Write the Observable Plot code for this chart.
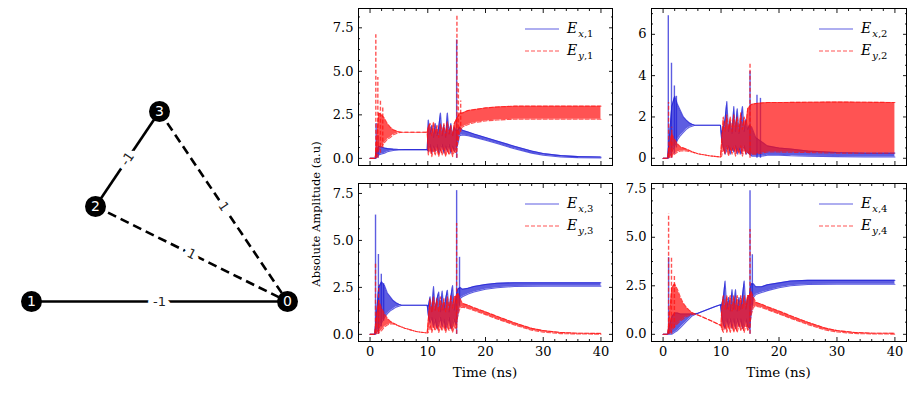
<!DOCTYPE html>
<html><head><meta charset="utf-8">
<script src="https://cdn.jsdelivr.net/npm/d3@7"></script>
<script src="https://cdn.jsdelivr.net/npm/@observablehq/plot@0.6"></script>
<style>
body{margin:0;background:#fff;}
#fig{position:relative;width:920px;height:393px;overflow:hidden;font-family:"DejaVu Serif";color:#000;}
.abs{position:absolute;}
</style></head><body><div id="fig"></div>
<script>
// ---------------- graph data ----------------
const nodeIds = [0, 1, 2, 3];
const nodeX = [4, 0, 1, 2];
const nodeY = [0, 0, 1.5, 3];
const edgeFrom = [1, 2, 2, 3];
const edgeTo = [0, 3, 0, 0];
const edgeWeight = [-1, -1, 1, 1];

// ---------------- axis ticks ----------------
const timeTicks = [0, 10, 20, 30, 40];
const ampTicks25 = [0, 2.5, 5, 7.5];
const ampTicks2 = [0, 2, 4, 6];
const xLabel = "Time (ns)";
const yLabel = "Absolute Amplitude (a.u)";

// ---------------- series: envelopes [t, low, high] and spikes [t, low, peak] ----------------
const ex1Band = [[0,0,0],[0.9,0,0],[1.0,0,0.3],[1.5,0.2,0.7],[2,0.25,0.65],[2.5,0.3,0.6],[3,0.38,0.56],[4,0.45,0.53],[5,0.48,0.51],[6,0.5,0.5],[9.9,0.5,0.5],
  [10.1,0.4,2.2],[10.4,0.8,1.4],[10.7,0.3,1.9],[11.0,0.7,1.2],[11.3,0.4,2.0],[11.6,0.8,1.3],[11.9,0.3,1.8],[12.2,0.5,2.6],[12.5,0.8,1.3],[12.8,0.3,1.9],[13.1,0.7,1.2],[13.4,0.4,2.6],[13.7,0.8,1.4],[14.0,0.3,2.0],[14.3,0.7,1.3],[14.6,0.4,1.8],[14.9,0.6,1.6],
  [15.2,0.8,1.6],[15.5,1.3,1.8],[16,1.35,1.62],[17,1.3,1.52],[18,1.22,1.4],[20,1.04,1.2],[22,0.85,1.0],[25,0.55,0.7],[28,0.3,0.42],[30,0.18,0.28],[33,0.08,0.16],[36,0.04,0.1],[40,0.03,0.08]];
const ex1Spikes = [[1.05,0,2.0],[1.4,0,1.3],[15.0,0,6.8]];
const ey1Band = [[0,0,0],[0.9,0,0],[1.0,0,0.4],[1.5,0.5,2.6],[2,0.7,2.5],[2.5,0.9,2.3],[3,1.1,2.0],[3.5,1.2,1.8],[4,1.35,1.65],[4.5,1.42,1.58],[5,1.48,1.52],[5.5,1.5,1.5],[9.9,1.5,1.5],
  [10.1,0.2,1.8],[10.4,0.6,2.0],[10.7,0.1,1.3],[11.0,0.5,2.1],[11.3,0.2,1.4],[11.6,0.6,1.9],[11.9,0.1,1.2],[12.2,0.5,2.0],[12.5,0.2,1.4],[12.8,0.6,2.0],[13.1,0.1,1.3],[13.4,0.5,2.1],[13.7,0.2,1.4],[14.0,0.6,1.9],[14.3,0.1,1.3],[14.6,0.4,2.0],[14.9,0.3,2.2],
  [15.2,1.0,2.4],[15.6,1.6,2.6],[16,1.8,2.6],[17,1.95,2.75],[18,2.05,2.8],[20,2.15,2.9],[22,2.2,2.95],[25,2.25,3.0],[30,2.25,3.0],[40,2.25,3.0]];
const ey1Spikes = [[1.0,0,7.1],[1.35,0,4.65],[1.8,0.3,3.4],[2.2,0.6,2.9],[15.05,0,8.2],[15.3,1.0,4.3],[15.7,1.5,3.3]];

const ex2Band = [[0,0,0],[0.8,0,0],[0.9,0,0.4],[1.5,0.3,2.5],[2,0.6,3.0],[2.5,0.9,2.6],[3,1.1,2.3],[3.5,1.25,2.0],[4,1.4,1.85],[4.5,1.5,1.72],[5,1.55,1.65],[5.5,1.6,1.6],[9.9,1.6,1.6],
  [10.1,0.9,1.2],[10.4,0.5,1.5],[10.7,0.2,1.9],[11.0,0.4,2.75],[11.3,0.6,1.3],[11.6,0.2,1.8],[11.9,0.5,1.2],[12.2,0.3,2.5],[12.5,0.6,1.3],[12.8,0.2,2.4],[13.1,0.5,1.2],[13.4,0.2,1.8],[13.7,0.4,2.5],[14.0,0.6,1.3],[14.3,0.2,1.9],[14.6,0.3,1.4],[14.9,0.2,1.6],
  [15.3,0.1,1.5],[16,0.1,1.0],[17,0.1,0.8],[18,0.15,0.6],[20,0.15,0.5],[22,0.12,0.45],[25,0.1,0.35],[30,0.08,0.28],[35,0.06,0.25],[40,0.06,0.25]];
const ex2Spikes = [[0.9,0,6.9],[1.45,0,4.6],[1.95,0.2,3.5],[2.3,0.5,3.0],[15.0,0.2,4.2],[16.2,0,3.05],[16.8,0,2.9]];
const ey2Band = [[0,0,0],[0.8,0,0],[0.9,0,0.3],[1.5,0.1,1.2],[2,0.2,0.9],[2.5,0.3,0.7],[3,0.35,0.55],[4,0.35,0.45],[5,0.3,0.32],[6,0.22,0.22],[8,0.12,0.12],[9.9,0.06,0.06],
  [10.1,0.1,0.8],[10.4,0.5,2.0],[10.7,0.2,1.3],[11.0,0.6,2.1],[11.3,0.1,1.4],[11.6,0.5,2.0],[11.9,0.2,1.3],[12.2,0.6,2.1],[12.5,0.1,1.5],[12.8,0.5,2.0],[13.1,0.2,1.3],[13.4,0.6,2.2],[13.7,0.1,1.4],[14.0,0.5,2.0],[14.3,0.2,1.6],[14.6,0.3,2.4],[14.9,0.2,2.5],
  [15.2,0.2,2.6],[16,0.2,2.65],[18,0.3,2.7],[20,0.3,2.7],[30,0.25,2.72],[40,0.25,2.7]];
const ey2Spikes = [[0.95,0,2.7],[1.5,0,1.5],[15.0,0,4.6]];

const ex3Band = [[0,0,0],[0.8,0,0],[0.9,0,0.3],[1.5,0.3,2.5],[2,0.6,2.8],[2.5,0.9,2.6],[3,1.1,2.2],[3.5,1.25,2.0],[4,1.35,1.8],[4.5,1.45,1.68],[5,1.5,1.6],[5.5,1.55,1.55],[9.9,1.55,1.55],
  [10.1,1.0,1.5],[10.4,0.6,2.0],[10.7,0.9,1.2],[11.0,0.4,2.55],[11.3,0.8,1.3],[11.6,0.3,1.9],[11.9,0.5,2.25],[12.2,0.9,1.2],[12.5,0.4,2.3],[12.8,0.8,1.3],[13.1,0.3,1.9],[13.4,0.5,2.35],[13.7,0.9,1.2],[14.0,0.3,2.0],[14.3,0.4,2.6],[14.6,0.8,1.3],[14.9,0.5,2.0],
  [15.2,1.0,2.4],[15.6,1.9,2.5],[16,2.0,2.4],[17,2.15,2.45],[18,2.25,2.55],[20,2.4,2.65],[22,2.48,2.72],[25,2.55,2.75],[30,2.57,2.75],[40,2.57,2.75]];
const ex3Spikes = [[0.95,0,6.35],[1.45,0,4.25],[1.95,0.4,3.2],[2.35,0.7,2.7],[15.0,0,7.65],[15.5,1.5,4.1]];
const ey3Band = [[0,0,0],[0.8,0,0],[0.9,0,0.3],[1.5,0.1,1.8],[2,0.2,1.4],[2.5,0.4,1.1],[3,0.5,0.85],[3.5,0.55,0.7],[4,0.55,0.6],[5,0.45,0.45],[6,0.33,0.33],[8,0.15,0.15],[9.9,0.07,0.07],
  [10.1,0.1,0.8],[10.4,0.5,1.9],[10.7,0.1,1.2],[11.0,0.4,2.0],[11.3,0.2,1.3],[11.6,0.5,1.9],[11.9,0.1,1.2],[12.2,0.4,2.0],[12.5,0.2,1.3],[12.8,0.5,1.9],[13.1,0.1,1.2],[13.4,0.4,2.0],[13.7,0.2,1.3],[14.0,0.5,2.1],[14.3,0.1,1.4],[14.6,0.4,2.0],[14.9,0.3,2.0],
  [15.2,1.0,2.2],[15.6,1.4,1.9],[16,1.45,1.65],[17,1.38,1.55],[18,1.27,1.42],[20,1.05,1.2],[22,0.82,0.96],[25,0.5,0.62],[28,0.22,0.32],[30,0.12,0.2],[33,0.04,0.1],[36,0.02,0.06],[40,0.01,0.05]];
const ey3Spikes = [[0.95,0,3.8],[1.5,0,2.6],[15.0,0,5.9]];

const ex4Band = [[0,0,0],[0.8,0,0],[0.9,0,0.2],[1.5,0,0.9],[2,0.1,1.1],[2.5,0.2,1.1],[3,0.35,1.05],[3.5,0.5,1.05],[4,0.65,1.05],[4.5,0.8,1.05],[5,0.95,1.05],[5.5,1.02,1.06],[6,1.08,1.08],[7,1.2,1.2],[8,1.32,1.32],[9,1.43,1.43],[9.9,1.52,1.52],
  [10.1,1.0,1.5],[10.4,0.5,1.9],[10.7,0.3,2.75],[11.0,0.8,1.3],[11.3,0.4,1.9],[11.6,0.8,1.2],[11.9,0.3,2.3],[12.2,0.8,1.3],[12.5,0.3,2.3],[12.8,0.8,1.2],[13.1,0.4,1.9],[13.4,0.8,1.3],[13.7,0.3,2.0],[14.0,0.4,2.75],[14.3,0.8,1.3],[14.6,0.4,1.9],[14.9,0.3,2.0],
  [15.2,1.0,2.6],[15.6,1.9,2.6],[16,2.05,2.45],[17,2.15,2.45],[18,2.25,2.55],[20,2.4,2.65],[22,2.5,2.75],[25,2.57,2.78],[30,2.58,2.78],[40,2.58,2.78]];
const ex4Spikes = [[0.95,0,3.95],[15.0,0,7.4],[15.4,1.5,4.1]];
const ey4Band = [[0,0,0],[0.8,0,0],[0.9,0,0.3],[1.5,0.2,2.4],[2,0.4,2.6],[2.5,0.55,2.3],[3,0.7,1.9],[3.5,0.8,1.6],[4,0.9,1.4],[4.5,0.97,1.25],[5,1.02,1.12],[5.5,1.05,1.05],[7,0.87,0.87],[9,0.6,0.6],[10,0.45,0.45],
  [10.1,0.3,1.2],[10.4,0.1,2.0],[10.7,0.5,1.3],[11.0,0.1,2.0],[11.3,0.4,1.3],[11.6,0.1,2.0],[11.9,0.5,1.2],[12.2,0.1,2.0],[12.5,0.4,1.3],[12.8,0.1,2.0],[13.1,0.5,1.2],[13.4,0.2,2.0],[13.7,0.4,1.3],[14.0,0.1,2.0],[14.3,0.5,1.4],[14.6,0.2,2.0],[14.9,0.3,2.0],
  [15.2,1.0,2.2],[15.6,1.4,1.9],[16,1.45,1.65],[17,1.38,1.55],[18,1.27,1.42],[20,1.05,1.2],[22,0.82,0.96],[25,0.5,0.62],[28,0.22,0.32],[30,0.12,0.2],[33,0.04,0.1],[36,0.02,0.06],[40,0.01,0.05]];
const ey4Spikes = [[0.95,0,6.2],[1.45,0,4.0],[1.95,0.3,3.0],[15.0,0,5.4]];

// ---------------- styles ----------------
const BLUE = "#1f1fd6", RED = "#ff1010", OP = 0.72, DASH = "4,2";
const SERIF = "DejaVu Serif";
const fig = document.getElementById("fig");

// ---------------- network graph ----------------
(function () {
  const W = 310, H = 393, mL = 31, mR = 23, mT = 111, mB = 92;
  const kx = (W - mL - mR) / 4, ky = (H - mT - mB) / 3;
  const nodes = nodeIds.map((id, i) => ({id, x: nodeX[i], y: nodeY[i]}));
  const byId = id => nodes.find(n => n.id === id);
  const edges = edgeFrom.map((a, i) => {
    const A = byId(a), B = byId(edgeTo[i]);
    let ang = Math.atan2(-(B.y - A.y) * ky, (B.x - A.x) * kx) * 180 / Math.PI;
    if (ang > 90) ang -= 180; if (ang < -90) ang += 180;
    return {x1: A.x, y1: A.y, x2: B.x, y2: B.y, w: edgeWeight[i], mx: (A.x + B.x) / 2, my: (A.y + B.y) / 2, ang};
  });
  const svg = Plot.plot({
    width: W, height: H, marginLeft: mL, marginRight: mR, marginTop: mT, marginBottom: mB,
    x: {domain: [0, 4], axis: null}, y: {domain: [0, 3], axis: null},
    style: {background: "transparent", overflow: "visible"},
    marks: [
      Plot.link(edges.filter(e => e.w < 0), {x1: "x1", y1: "y1", x2: "x2", y2: "y2", stroke: "black", strokeWidth: 2.6}),
      Plot.link(edges.filter(e => e.w > 0), {x1: "x1", y1: "y1", x2: "x2", y2: "y2", stroke: "black", strokeWidth: 2.6, strokeDasharray: "9,5"}),
      Plot.text(edges, {x: "mx", y: "my", text: d => String(d.w), rotate: "ang", fill: "#222", stroke: "white", strokeWidth: 11, fontSize: 13, fontFamily: "DejaVu Sans"}),
      Plot.dot(nodes, {x: "x", y: "y", r: 10.5, fill: "black", stroke: "none"}),
      Plot.text(nodes, {x: "x", y: "y", text: d => String(d.id), fill: "white", fontSize: 14, fontFamily: "DejaVu Sans"})
    ]
  });
  svg.style.position = "absolute"; svg.style.left = "0px"; svg.style.top = "0px";
  fig.appendChild(svg);
})();

// ---------------- panels ----------------
const panels = [
  {left: 310, top: 0, w: 310, h: 175, frame: [358, 8, 612, 165], yDomain: [-0.41, 8.61], yTicks: ampTicks25, yFmt: d3.format(".1f"), yMinorStep: 0.625, showX: false,
   ex: {band: ex1Band, spikes: ex1Spikes}, ey: {band: ey1Band, spikes: ey1Spikes}, idx: 1},
  {left: 615, top: 0, w: 305, h: 175, frame: [651, 8, 906, 165], yDomain: [-0.35, 7.25], yTicks: ampTicks2, yFmt: d3.format("d"), yMinorStep: 0.5, showX: false,
   ex: {band: ex2Band, spikes: ex2Spikes}, ey: {band: ey2Band, spikes: ey2Spikes}, idx: 2},
  {left: 310, top: 175, w: 310, h: 218, frame: [358, 183, 612, 341], yDomain: [-0.38, 8.03], yTicks: ampTicks25, yFmt: d3.format(".1f"), yMinorStep: 0.625, showX: true,
   ex: {band: ex3Band, spikes: ex3Spikes}, ey: {band: ey3Band, spikes: ey3Spikes}, idx: 3},
  {left: 615, top: 175, w: 305, h: 218, frame: [651, 183, 906, 341], yDomain: [-0.37, 7.77], yTicks: ampTicks25, yFmt: d3.format(".1f"), yMinorStep: 0.625, showX: true,
   ex: {band: ex4Band, spikes: ex4Spikes}, ey: {band: ey4Band, spikes: ey4Spikes}, idx: 4}
];

const xMinor = [];
for (let v = -2; v <= 42; v += 2) if (!timeTicks.includes(v)) xMinor.push(v);

function seriesMarks(s, color, dash) {
  return [
    Plot.area(s.band, {x1: d => d[0], y1: d => d[1], y2: d => d[2], fill: color, fillOpacity: OP}),
    Plot.line(s.band, {x: d => d[0], y: d => d[1], stroke: color, strokeOpacity: OP, strokeWidth: 1.1, strokeDasharray: dash}),
    Plot.line(s.band, {x: d => d[0], y: d => d[2], stroke: color, strokeOpacity: OP, strokeWidth: 1.1, strokeDasharray: dash}),
    Plot.ruleX(s.spikes, {x: d => d[0], y1: d => d[1], y2: d => d[2], stroke: color, strokeOpacity: OP, strokeWidth: 1.4, strokeDasharray: dash})
  ];
}

for (const p of panels) {
  const [fx0, fy0, fx1, fy1] = p.frame;
  const yMinor = [];
  for (let k = 0; k * p.yMinorStep <= p.yDomain[1]; k++) {
    const v = +(k * p.yMinorStep).toFixed(4);
    if (!p.yTicks.includes(v)) yMinor.push(v);
  }
  const tk = (axis, anchor, ticks, size) => axis({ticks, anchor, tickSize: size, tickFormat: () => "", label: null, strokeWidth: 0.9});
  const marks = [
    ...seriesMarks(p.ex, BLUE, null),
    ...seriesMarks(p.ey, RED, DASH),
    tk(Plot.axisX, "bottom", xMinor, -2), tk(Plot.axisX, "bottom", timeTicks, -4),
    tk(Plot.axisX, "top", xMinor, -2), tk(Plot.axisX, "top", timeTicks, -4),
    tk(Plot.axisY, "left", yMinor, -2), tk(Plot.axisY, "left", p.yTicks, -4),
    tk(Plot.axisY, "right", yMinor, -2), tk(Plot.axisY, "right", p.yTicks, -4),
    Plot.axisY({ticks: p.yTicks, anchor: "left", tickSize: 0, tickPadding: 5, tickFormat: p.yFmt, label: null}),
    p.showX ? Plot.axisX({ticks: timeTicks, anchor: "bottom", tickSize: 0, tickPadding: 5, tickFormat: d3.format("d"), label: null}) : null,
    Plot.frame({stroke: "black", strokeWidth: 1})
  ];
  const svg = Plot.plot({
    width: p.w, height: p.h,
    marginLeft: fx0 - p.left, marginTop: fy0 - p.top, marginRight: p.left + p.w - fx1, marginBottom: p.top + p.h - fy1,
    x: {domain: [-2, 42]}, y: {domain: p.yDomain},
    style: {fontFamily: SERIF, fontSize: "13px", background: "transparent", overflow: "visible", color: "black"},
    marks
  });
  svg.style.position = "absolute"; svg.style.left = p.left + "px"; svg.style.top = p.top + "px";
  fig.appendChild(svg);

  // legend
  const r1 = fy0 + 21, r2 = fy0 + 43;
  const rows = [[r1, BLUE, null, "x"], [r2, RED, DASH, "y"]];
  for (const [ry, col, dash, comp] of rows) {
    const ln = document.createElement("div");
    ln.className = "abs";
    ln.style.left = (fx1 - 87) + "px"; ln.style.top = (ry - 3) + "px";
    ln.innerHTML = `<svg width="34" height="6" style="display:block"><line x1="0" y1="3" x2="34" y2="3" stroke="${col}" stroke-opacity="${OP}" stroke-width="1.2" ${dash ? `stroke-dasharray="${dash}"` : ""}/></svg>`;
    fig.appendChild(ln);
    const tx = document.createElement("div");
    tx.className = "abs";
    tx.style.left = (fx1 - 45) + "px"; tx.style.top = (ry - 11) + "px";
    tx.style.whiteSpace = "nowrap"; tx.style.lineHeight = "20px"; tx.style.fontSize = "14px";
    tx.innerHTML = `<i>E</i><span style="font-size:10px;position:relative;top:4px;margin-left:1px"><i>${comp}</i>,${p.idx}</span>`;
    fig.appendChild(tx);
  }
  if (p.showX) {
    const xl = document.createElement("div");
    xl.className = "abs";
    xl.style.left = ((fx0 + fx1) / 2) + "px"; xl.style.top = "372px";
    xl.style.transform = "translate(-50%,-50%)"; xl.style.whiteSpace = "nowrap"; xl.style.fontSize = "13.5px";
    xl.textContent = xLabel;
    fig.appendChild(xl);
  }
}

const yl = document.createElement("div");
yl.className = "abs";
yl.style.left = "316px"; yl.style.top = "214px";
yl.style.transform = "translate(-50%,-50%) rotate(-90deg)"; yl.style.whiteSpace = "nowrap"; yl.style.fontSize = "11.5px";
yl.textContent = yLabel;
fig.appendChild(yl);
</script>
</body></html>
